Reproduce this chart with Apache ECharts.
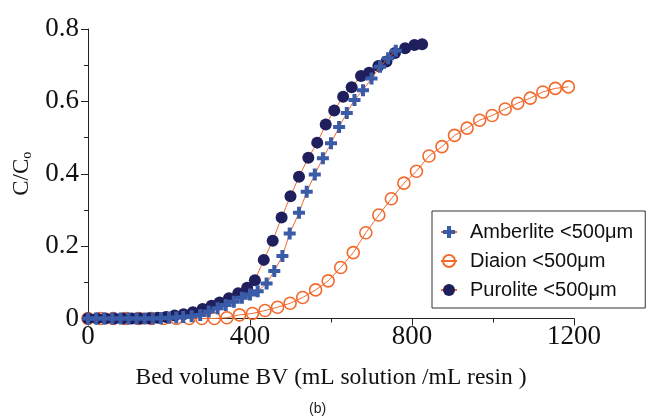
<!DOCTYPE html>
<html>
<head>
<meta charset="utf-8">
<script src="https://cdn.jsdelivr.net/npm/echarts@6/dist/echarts.min.js"></script>
<style>html,body{margin:0;padding:0;background:#fff;}#c{width:649px;height:418px;}</style>
</head>
<body>
<div id="c"></div>
<script>
const seriesNames = ['Amberlite <500μm', 'Diaion <500μm', 'Purolite <500μm'];
const xTicks = [0, 400, 800, 1200];
const yTicks = [0, 0.2, 0.4, 0.6, 0.8];

const amberliteBV = [0,20,40,60,80,100,120,140,160,180,200,218,235,256,277,298,320,340,360,380,400,419,441,460,480,498,521,540,560,580,600,620,639,658,679,700,721,741,760];
const amberliteC = [0,0,0,0,0,0,0,0,0,0.001,0.002,0.003,0.004,0.006,0.010,0.019,0.028,0.037,0.046,0.057,0.066,0.075,0.097,0.131,0.173,0.235,0.292,0.350,0.398,0.443,0.484,0.529,0.568,0.604,0.631,0.663,0.696,0.719,0.740];

const diaionBV = [0,31,62,94,125,156,187,218,250,281,312,343,374,406,437,468,499,530,562,593,624,655,686,718,749,780,811,842,874,905,936,967,998,1030,1061,1092,1123,1154,1186];
const diaionC = [0,0,0,0,0,0,0,0,0,0,0,0.002,0.010,0.014,0.022,0.031,0.042,0.058,0.079,0.104,0.141,0.182,0.237,0.286,0.331,0.374,0.407,0.449,0.475,0.506,0.526,0.548,0.561,0.579,0.595,0.609,0.626,0.636,0.640];

const puroliteBV = [0,22,43,65,86,108,129,151,172,193,214,236,259,283,305,325,348,371,393,412,434,456,478,500,521,544,566,587,608,630,651,674,694,717,737,758,783,806,825];
const puroliteC = [0,0,0,0,0,0,0,0.001,0.002,0.004,0.008,0.012,0.017,0.026,0.035,0.044,0.056,0.070,0.085,0.106,0.162,0.215,0.279,0.338,0.392,0.444,0.486,0.536,0.575,0.613,0.639,0.670,0.679,0.698,0.710,0.734,0.747,0.756,0.758];

function pairs(xs, ys) { return xs.map((x, i) => [x, ys[i]]); }

const ORANGE = '#f26a2c';
const BLUE = '#3a5ba8';
const NAVY = '#1e1f5c';
const PLUS = 'path://M4,0H8V4H12V8H8V12H4V8H0V4H4Z';

const chart = echarts.init(document.getElementById('c'), null, {renderer: 'canvas'});
chart.setOption({
  animation: false,
  backgroundColor: '#fff',
  grid: {left: 88, right: 75, top: 29, bottom: 99.5, containLabel: false},
  xAxis: {
    type: 'value', min: xTicks[0], max: xTicks[xTicks.length - 1], interval: 400,
    name: 'Bed volume BV (mL solution /mL resin )',
    nameLocation: 'middle', nameGap: 47,
    nameTextStyle: {fontFamily: 'Liberation Serif', fontSize: 23.5, color: '#111'},
    axisLine: {show: true, onZero: false, lineStyle: {color: '#222', width: 1}},
    axisTick: {show: true, inside: false, length: 7, lineStyle: {color: '#222'}},
    minorTick: {show: true, splitNumber: 2, length: 4, lineStyle: {color: '#222'}},
    splitLine: {show: false},
    axisLabel: {fontFamily: 'Liberation Serif', fontSize: 27, color: '#111', margin: 5,
      formatter: v => String(v)}
  },
  yAxis: {
    type: 'value', min: yTicks[0], max: yTicks[yTicks.length - 1], interval: 0.2,
    name: '{a|C/C}{b|o}',
    nameLocation: 'middle', nameGap: 49, nameRotate: 90,
    nameTextStyle: {
      rich: {
        a: {fontFamily: 'Liberation Serif', fontSize: 23, color: '#111'},
        b: {fontFamily: 'Liberation Serif', fontSize: 14, color: '#111', verticalAlign: 'bottom', padding: [10, 0, 0, 0]}
      }
    },
    axisLine: {show: true, onZero: false, lineStyle: {color: '#222', width: 1}},
    axisTick: {show: true, inside: false, length: 7, lineStyle: {color: '#222'}},
    minorTick: {show: true, splitNumber: 2, length: 4, lineStyle: {color: '#222'}},
    splitLine: {show: false},
    axisLabel: {fontFamily: 'Liberation Serif', fontSize: 27, color: '#111', margin: 9,
      formatter: v => String(v)}
  },
  legend: {
    data: seriesNames,
    orient: 'vertical',
    left: 432, top: 211,
    padding: [11, 12, 8, 8],
    itemGap: 9,
    itemWidth: 16, itemHeight: 15,
    borderColor: '#333', borderWidth: 1,
    textStyle: {fontFamily: 'Liberation Sans', fontSize: 20, color: '#111', padding: [0, 0, 0, 8]}
  },
  series: [
    {
      name: seriesNames[0], type: 'line', z: 4, clip: false,
      data: pairs(amberliteBV, amberliteC),
      symbol: PLUS, symbolSize: 12,
      itemStyle: {color: BLUE},
      lineStyle: {color: ORANGE, width: 1}
    },
    {
      name: seriesNames[1], type: 'line', z: 2, clip: false,
      data: pairs(diaionBV, diaionC),
      symbol: 'circle', symbolSize: 12,
      itemStyle: {color: 'rgba(255,255,255,0)', borderColor: ORANGE, borderWidth: 1.6},
      lineStyle: {color: ORANGE, width: 1}
    },
    {
      name: seriesNames[2], type: 'line', z: 3, clip: false,
      data: pairs(puroliteBV, puroliteC),
      symbol: 'circle', symbolSize: 12,
      itemStyle: {color: NAVY},
      lineStyle: {color: ORANGE, width: 1}
    }
  ],
  graphic: [{
    type: 'text', left: 309, top: 402,
    style: {text: '(b)', font: '14px "Liberation Sans"', fill: '#222'}
  }]
});
</script>
</body>
</html>
